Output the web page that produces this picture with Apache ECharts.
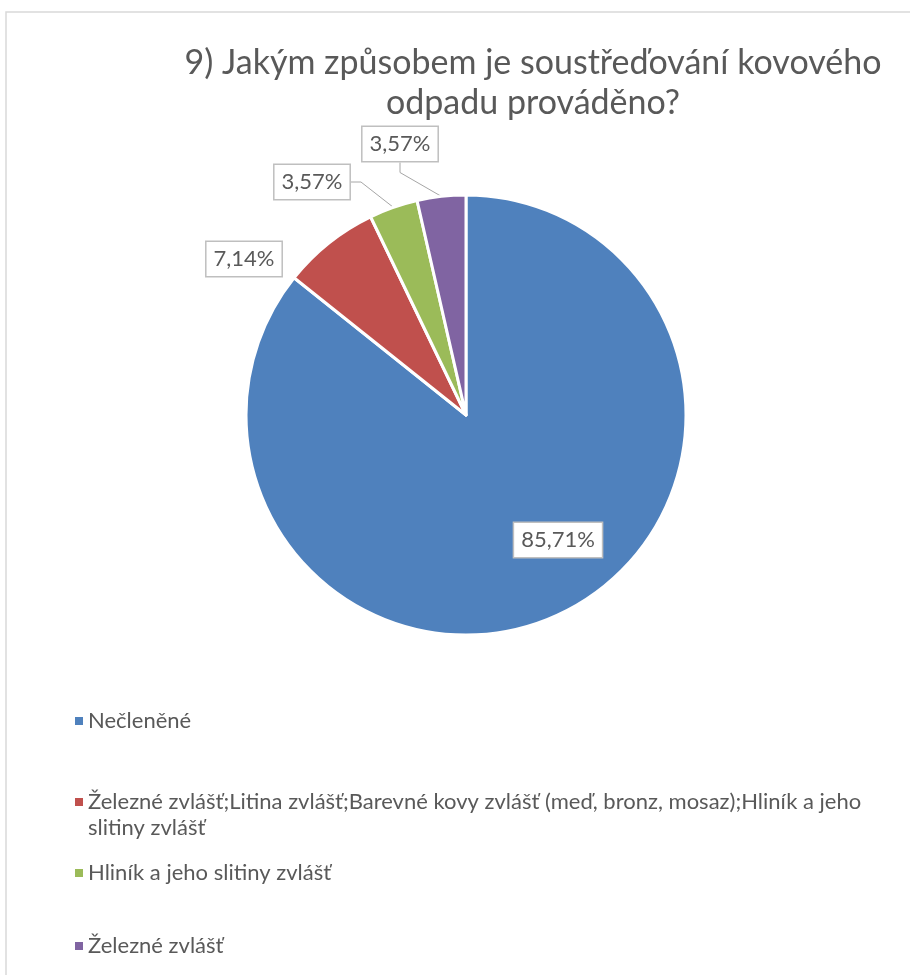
<!DOCTYPE html>
<html><head><meta charset="utf-8">
<script src="https://cdn.jsdelivr.net/npm/echarts@6/dist/echarts.min.js"></script>
<style>html,body{margin:0;padding:0;background:#fff}#c{width:910px;height:975px}</style>
</head><body><div id="c"></div>
<script>
const titleText = '9) Jakým způsobem je soustřeďování kovového\nodpadu prováděno?';
const categories = [
  'Nečleněné',
  'Železné zvlášť;Litina zvlášť;Barevné kovy zvlášť (meď, bronz, mosaz);Hliník a jeho slitiny zvlášť',
  'Hliník a jeho slitiny zvlášť',
  'Železné zvlášť'
];
const values = [85.71, 7.14, 3.57, 3.57];
const valueLabels = ['85,71%', '7,14%', '3,57%', '3,57%'];
const colors = ['#4F81BD', '#C0504D', '#9BBB59', '#8064A2'];

// layout (not data)
const labelPos = [[558, 540], [244, 259], [312, 182], [400, 144]];
const showLeader = [false, false, true, true];
const legendTops = [703, 758, 855, 928];
const FONT = 'Lato';
const TXT = '#595959';

const chart = echarts.init(document.getElementById('c'), null, {renderer: 'canvas'});

const legends = categories.map((name, i) => ({
  data: [{name: name, icon: 'rect'}],
  orient: 'vertical',
  left: 70,
  top: legendTops[i],
  itemWidth: 8,
  itemHeight: 8,
  itemGap: 0,
  itemStyle: {borderWidth: 0},
  selectedMode: false,
  formatter: n => (i === 1 ? '\n' + n.replace('jeho slitiny', 'jeho\nslitiny') : n),
  textStyle: {
    fontFamily: FONT,
    fontSize: 22,
    color: TXT,
    lineHeight: 26
  }
}));

chart.setOption({
  animation: false,
  backgroundColor: '#fff',
  color: colors,
  title: {
    text: titleText,
    left: 528,
    top: 38,
    textAlign: 'center',
    textStyle: {fontFamily: FONT, fontSize: 34, fontWeight: 'normal', color: TXT, lineHeight: 40}
  },
  graphic: [{
    type: 'rect',
    shape: {x: 6, y: 12, width: 1000, height: 1000},
    style: {fill: 'none', stroke: '#d9d9d9', lineWidth: 1.5},
    silent: true,
    z: -1
  }],
  legend: legends,
  series: [{
    type: 'pie',
    center: [466, 415],
    radius: [0, 220],
    startAngle: 90,
    clockwise: true,
    itemStyle: {borderColor: '#fff', borderWidth: 3},
    emphasis: {disabled: true},
    label: {
      show: true,
      formatter: p => valueLabels[p.dataIndex],
      fontFamily: FONT,
      fontSize: 22,
      color: TXT,
      backgroundColor: '#fff',
      borderColor: '#bfbfbf',
      borderWidth: 1.5,
      padding: [6, 7]
    },
    labelLine: {show: true, length: 10, length2: 10, lineStyle: {color: '#a6a6a6', width: 1}},
    labelLayout: p => ({
      x: labelPos[p.dataIndex][0],
      y: labelPos[p.dataIndex][1],
      align: 'center',
      verticalAlign: 'middle'
    }),
    data: categories.map((n, i) => ({
      name: n,
      value: values[i],
      labelLine: {show: showLeader[i]}
    }))
  }]
});
</script>
</body></html>
